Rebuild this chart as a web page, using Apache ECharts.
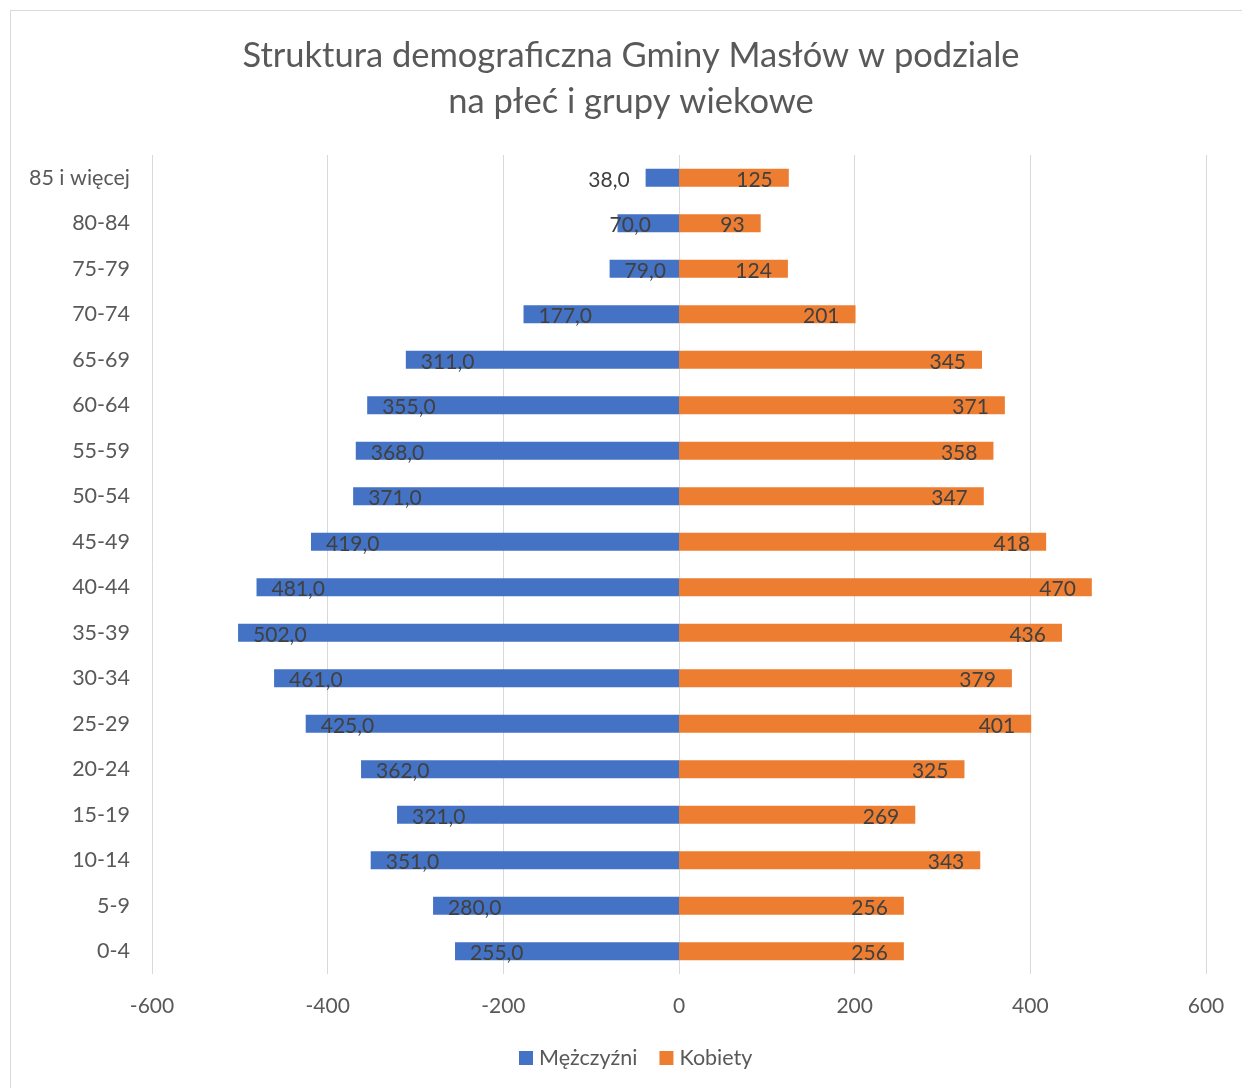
<!DOCTYPE html>
<html>
<head>
<meta charset="utf-8">
<script src="https://cdn.jsdelivr.net/npm/echarts@6/dist/echarts.min.js"></script>
<style>
  html, body { margin: 0; padding: 0; background: #fff; }
  #frame { position: absolute; left: 10px; top: 10px; width: 1300px; height: 1200px; border: 1px solid #d9d9d9; }
  #vis { position: absolute; left: 0; top: 0; width: 1242px; height: 1088px; }
</style>
</head>
<body>
<div id="frame"></div>
<div id="vis"></div>
<script>
const ageGroups = ['0-4', '5-9', '10-14', '15-19', '20-24', '25-29', '30-34', '35-39', '40-44',
  '45-49', '50-54', '55-59', '60-64', '65-69', '70-74', '75-79', '80-84', '85 i więcej']
const men = [255, 280, 351, 321, 362, 425, 461, 502, 481, 419, 371, 368, 355, 311, 177, 79, 70, 38]
const women = [256, 256, 343, 269, 325, 401, 379, 436, 470, 418, 347, 358, 371, 345, 201, 124, 93, 125]
const xTicks = { min: -600, max: 600, interval: 200 }

const fontFamily = 'Lato, "Noto Sans", sans-serif'
const textColor = '#595959'

// short bars: excel pushes the label out of the bar
const menLabelFix = {
  '85 i więcej': { position: 'left', distance: 16 },
  '80-84': { position: 'insideLeft', distance: -8 }
}

const chart = echarts.init(document.getElementById('vis'), null, { renderer: 'canvas' })

const labelBase = {
  show: true,
  color: '#404040',
  fontSize: 21,
  fontFamily,
  offset: [0, 2]
}

chart.setOption({
  animation: false,
  title: {
    text: 'Struktura demograficzna Gminy Masłów w podziale\nna płeć i grupy wiekowe',
    left: 626,
    top: 28,
    textAlign: 'center',
    textStyle: {
      fontFamily,
      fontSize: 34.5,
      fontWeight: 'normal',
      color: textColor,
      lineHeight: 46
    }
  },
  legend: {
    bottom: 14,
    left: 514,
    itemWidth: 14,
    itemHeight: 14,
    itemGap: 22,
    icon: 'rect',
    textStyle: { fontFamily, fontSize: 21.5, color: textColor, padding: [0, 0, 0, 1] },
    data: ['Mężczyźni', 'Kobiety']
  },
  grid: { left: 152, right: 36, top: 155, bottom: 114, containLabel: false },
  xAxis: {
    type: 'value',
    min: xTicks.min,
    max: xTicks.max,
    interval: xTicks.interval,
    axisLine: { show: false },
    axisTick: { show: false },
    splitLine: { lineStyle: { color: '#d9d9d9', width: 1 } },
    axisLabel: { fontFamily, fontSize: 21, color: textColor, margin: 22 }
  },
  yAxis: {
    type: 'category',
    data: ageGroups,
    axisLine: { show: false },
    axisTick: { show: false },
    axisLabel: { fontFamily, fontSize: 21.5, color: textColor, margin: 22 }
  },
  series: [
    {
      name: 'Mężczyźni',
      type: 'bar',
      stack: 'total',
      barWidth: 18,
      itemStyle: { color: '#4472C4' },
      label: { ...labelBase, position: 'insideLeft', distance: 15, formatter: p => Math.abs(p.value).toFixed(1).replace('.', ',') },
      data: men.map((v, i) => {
        const fix = menLabelFix[ageGroups[i]]
        return fix ? { value: -v, label: fix } : -v
      })
    },
    {
      name: 'Kobiety',
      type: 'bar',
      stack: 'total',
      barWidth: 18,
      itemStyle: { color: '#ED7D31' },
      label: { ...labelBase, position: 'insideRight', distance: 16 },
      data: women
    }
  ]
})
</script>
</body>
</html>
